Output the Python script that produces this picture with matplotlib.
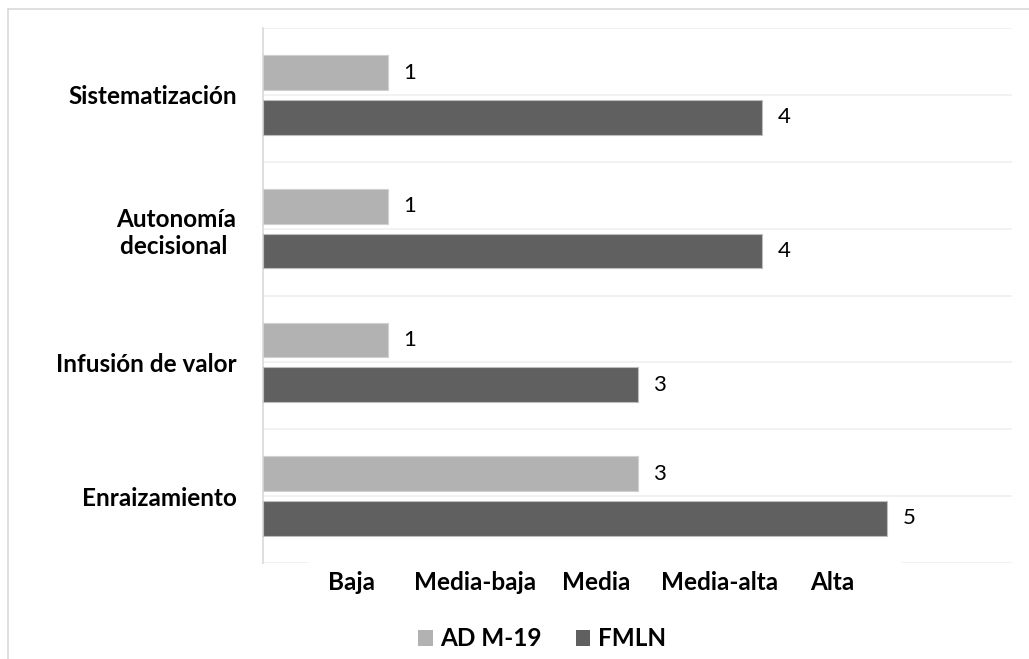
import numpy as np
import matplotlib
matplotlib.use('Agg')
import matplotlib.pyplot as plt
from matplotlib.lines import Line2D
from matplotlib.patches import Patch

plt.rcParams['font.family'] = ['Lato', 'DejaVu Sans']

# ========== 数据 ==========
categories = ['Sistematización', 'Autonomía\ndecisional ', 'Infusión de valor', 'Enraizamiento']
ad_m19 = [1, 1, 1, 3]
fmln = [4, 4, 3, 5]
level_labels = ['Baja', 'Media-baja', 'Media', 'Media-alta', 'Alta']
level_pos = [0.71, 1.70, 2.67, 3.66, 4.56]

COLORS = {'ad': '#b2b2b2', 'fmln': '#606060', 'grid': '#f0f0f0', 'spine': '#d9d9d9'}

fig = plt.figure(figsize=(10.29, 6.59), dpi=100, facecolor='white')
ax = fig.add_axes([263 / 1029, 1 - 563 / 659, (1012 - 263) / 1029, (563 - 28) / 659])

y = np.arange(len(categories))
h = 0.26
off = 0.167

# light gridlines every half category
for g in np.arange(-0.5, len(categories), 0.5):
    if g == len(categories) - 0.5:
        continue
    ax.axhline(g, color=COLORS['grid'], lw=1.2, zorder=0)
# bottom line broken by the tick labels
ax.axhline(len(categories) - 0.5, xmin=0, xmax=0.06, color=COLORS['grid'], lw=1.2, zorder=0)
ax.axhline(len(categories) - 0.5, xmin=0.853, xmax=1, color=COLORS['grid'], lw=1.2, zorder=0)

b1 = ax.barh(y - off, ad_m19, height=h, color=COLORS['ad'], edgecolor='#d0d0d0', lw=0.8, zorder=3)
b2 = ax.barh(y + off, fmln, height=h, color=COLORS['fmln'], edgecolor='#bdbdbd', lw=0.8, zorder=3)
ax.bar_label(b1, padding=11, fontsize=16, color='#000000')
ax.bar_label(b2, padding=11, fontsize=16, color='#000000')

ax.set_xlim(0, 6)
ax.set_ylim(len(categories) - 0.5, -0.5)

ax.set_yticks(y)
ax.set_yticklabels(categories, fontsize=17.5, fontweight='bold', multialignment='center',
                   linespacing=1.25)
ax.set_xticks(level_pos)
ax.set_xticklabels(level_labels, fontsize=17.5, fontweight='bold')
ax.tick_params(axis='y', length=0, pad=19)
ax.tick_params(axis='x', length=0, pad=6)

for s in ['top', 'right', 'bottom']:
    ax.spines[s].set_visible(False)
ax.spines['left'].set_color(COLORS['spine'])
ax.spines['left'].set_linewidth(1.2)

legend_elements = [
    Patch(facecolor=COLORS['ad'], label='AD M-19'),
    Patch(facecolor=COLORS['fmln'], label='FMLN'),
]
fig.legend(handles=legend_elements, loc='center', bbox_to_anchor=(542 / 1029, 1 - 639 / 659),
           ncol=2, frameon=False, prop={'size': 17.5, 'weight': 'bold'},
           handlelength=0.6, handleheight=0.6, handletextpad=0.3, columnspacing=1.4)

# outer frame
fig.add_artist(Line2D([8 / 1029, 1], [1 - 9 / 659, 1 - 9 / 659], color='#d9d9d9', lw=1.2))
fig.add_artist(Line2D([8 / 1029, 8 / 1029], [0, 1 - 9 / 659], color='#d9d9d9', lw=1.2))

plt.savefig('out.png', dpi=100, facecolor='white')
plt.close()
